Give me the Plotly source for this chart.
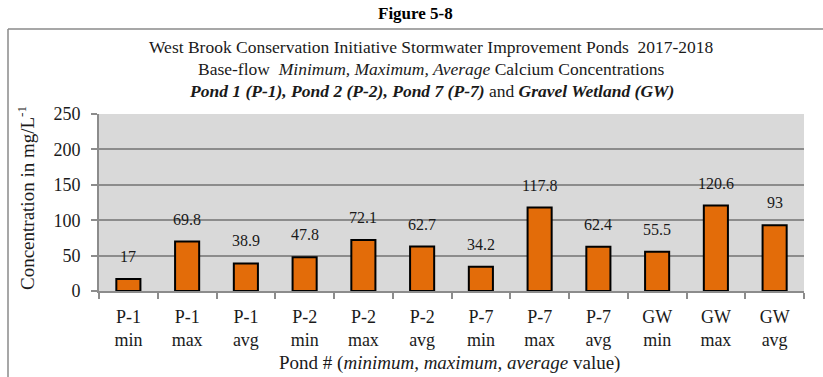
import plotly.graph_objects as go

# Base-flow calcium concentrations (mg/L) by pond and statistic
categories = ["P-1<br>min", "P-1<br>max", "P-1<br>avg",
              "P-2<br>min", "P-2<br>max", "P-2<br>avg",
              "P-7<br>min", "P-7<br>max", "P-7<br>avg",
              "GW<br>min", "GW<br>max", "GW<br>avg"]
values = [17, 69.8, 38.9, 47.8, 72.1, 62.7, 34.2, 117.8, 62.4, 55.5, 120.6, 93]
value_labels = ["17", "69.8", "38.9", "47.8", "72.1", "62.7",
                "34.2", "117.8", "62.4", "55.5", "120.6", "93"]
y_ticks = [0, 50, 100, 150, 200, 250]

W, H = 823, 377
ML, MR, MT, MB = 99, 19, 114, 86
PW, PH = W - ML - MR, H - MT - MB

def px_x(x):
    return (x - ML) / PW

def px_y(y):
    return (H - MB - y) / PH

SERIF = "'Liberation Serif', 'Times New Roman', Times, 'DejaVu Serif', serif"
TXT = "#1a1a1a"

fig = go.Figure()
fig.add_trace(go.Bar(
    x=categories, y=values,
    marker=dict(color="#E36C09", line=dict(color="#000000", width=2)),
    width=0.41,
    hoverinfo="x+y",
))

# value labels above each bar
for c, v, t in zip(categories, values, value_labels):
    fig.add_annotation(x=c, y=v, text=t, showarrow=False, yanchor="bottom",
                       yshift=12, font=dict(family=SERIF, size=16, color=TXT))

# titles
titles = [
    ("West Brook Conservation Initiative Stormwater Improvement Ponds  2017-2018", 47),
    ("Base-flow  <i>Minimum, Maximum, Average</i> Calcium Concentrations", 69),
    ("<b><i>Pond 1 (P-1), Pond 2 (P-2), Pond 7 (P-7)</i></b> and <b><i>Gravel Wetland (GW)</i></b>", 91),
]
for text, yy in titles:
    fig.add_annotation(xref="paper", yref="paper", x=px_x(431), y=px_y(yy),
                       text=text, showarrow=False, xanchor="center", yanchor="middle",
                       font=dict(family=SERIF, size=17.5, color=TXT))

fig.add_annotation(xref="paper", yref="paper", x=px_x(415), y=px_y(13),
                   text="<b>Figure 5-8</b>", showarrow=False,
                   xanchor="center", yanchor="middle",
                   font=dict(family=SERIF, size=17, color="#000000"))

fig.add_annotation(xref="paper", yref="paper", x=px_x(26), y=px_y(198),
                   text="Concentration in mg/L<sup>-1</sup>", showarrow=False,
                   textangle=-90, xanchor="center", yanchor="middle",
                   font=dict(family=SERIF, size=19, color=TXT))

fig.add_annotation(xref="paper", yref="paper", x=px_x(449), y=px_y(363),
                   text="Pond # (<i>minimum, maximum, average</i> value)", showarrow=False,
                   xanchor="center", yanchor="middle",
                   font=dict(family=SERIF, size=19, color=TXT))

# outer chart frame (left and top edges)
fig.add_shape(type="line", xref="paper", yref="paper",
              x0=px_x(8), x1=px_x(8), y0=px_y(29), y1=px_y(380),
              line=dict(color="#8a8a8a", width=1.5))
fig.add_shape(type="line", xref="paper", yref="paper",
              x0=px_x(8), x1=px_x(830), y0=px_y(29), y1=px_y(29),
              line=dict(color="#8a8a8a", width=1.5))

fig.update_layout(
    width=W, height=H,
    margin=dict(l=ML, r=MR, t=MT, b=MB),
    paper_bgcolor="white",
    plot_bgcolor="#D9D9D9",
    showlegend=False,
    font=dict(family=SERIF, color=TXT),
    xaxis=dict(
        tickson="boundaries", ticks="outside", ticklen=6, tickcolor="#8c8c8c",
        tickwidth=1.5, ticklabelstandoff=8,
        showline=True, linecolor="#8c8c8c", linewidth=2,
        tickfont=dict(family=SERIF, size=18, color=TXT),
        showgrid=False,
    ),
    yaxis=dict(
        range=[0, 250], tickvals=y_ticks, ticks="outside", ticklen=6,
        tickcolor="#8c8c8c", tickwidth=2, ticklabelstandoff=7,
        showline=True, linecolor="#8c8c8c", linewidth=2,
        gridcolor="#8c8c8c", gridwidth=2,
        tickfont=dict(family=SERIF, size=18, color=TXT),
        zeroline=False,
    ),
)

fig.write_html("out.html")
